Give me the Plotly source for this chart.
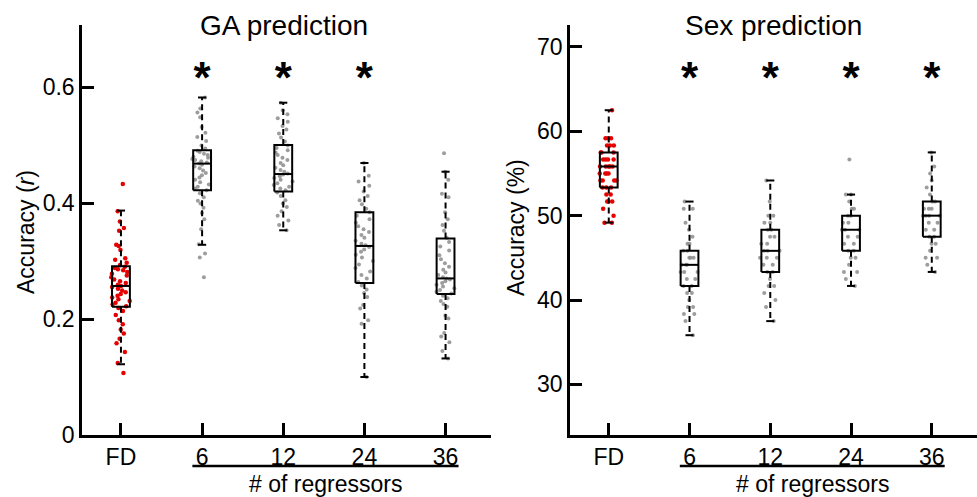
import plotly.graph_objects as go

categories = ["FD", "6", "12", "24", "36"]
positions = [1, 2, 3, 4, 5]

# ---------------- GA prediction (accuracy r) ----------------
ga_fd = [0.433, 0.386, 0.368, 0.357, 0.352, 0.328, 0.326, 0.319, 0.305, 0.302,
         0.297, 0.293, 0.290, 0.288, 0.286, 0.284, 0.281, 0.278, 0.275, 0.272,
         0.268, 0.265, 0.262, 0.259, 0.257, 0.255, 0.252, 0.249, 0.246, 0.243,
         0.240, 0.237, 0.234, 0.231, 0.228, 0.225, 0.222, 0.219, 0.214, 0.207,
         0.198, 0.191, 0.182, 0.175, 0.166, 0.158, 0.143, 0.124, 0.107]
ga_6 = [0.582, 0.563, 0.556, 0.548, 0.531, 0.521, 0.514, 0.507, 0.499, 0.494,
        0.490, 0.488, 0.485, 0.483, 0.480, 0.478, 0.476, 0.474, 0.472, 0.470,
        0.468, 0.466, 0.463, 0.460, 0.456, 0.452, 0.448, 0.444, 0.440, 0.436,
        0.432, 0.428, 0.425, 0.422, 0.417, 0.410, 0.404, 0.399, 0.392, 0.383,
        0.372, 0.355, 0.329, 0.313, 0.306, 0.272]
ga_12 = [0.573, 0.560, 0.553, 0.546, 0.540, 0.533, 0.527, 0.520, 0.513, 0.506,
         0.499, 0.495, 0.491, 0.487, 0.483, 0.478, 0.474, 0.469, 0.465, 0.461,
         0.457, 0.454, 0.451, 0.449, 0.446, 0.443, 0.440, 0.437, 0.434, 0.431,
         0.428, 0.425, 0.422, 0.418, 0.412, 0.405, 0.399, 0.393, 0.386, 0.378,
         0.370, 0.362, 0.353]
ga_24 = [0.469, 0.447, 0.437, 0.430, 0.420, 0.412, 0.405, 0.398, 0.390, 0.384,
         0.378, 0.372, 0.366, 0.360, 0.355, 0.350, 0.345, 0.340, 0.335, 0.330,
         0.327, 0.324, 0.320, 0.316, 0.311, 0.306, 0.300, 0.294, 0.288, 0.282,
         0.276, 0.270, 0.264, 0.258, 0.251, 0.245, 0.238, 0.224, 0.218, 0.198,
         0.192, 0.100]
ga_36 = [0.486, 0.454, 0.440, 0.416, 0.410, 0.384, 0.372, 0.362, 0.352, 0.340,
         0.333, 0.325, 0.318, 0.310, 0.303, 0.296, 0.290, 0.285, 0.280, 0.276,
         0.272, 0.270, 0.268, 0.265, 0.262, 0.259, 0.256, 0.253, 0.250, 0.247,
         0.244, 0.240, 0.236, 0.231, 0.226, 0.221, 0.206, 0.201, 0.176, 0.170,
         0.160, 0.145, 0.132]
ga_points = [ga_fd, ga_6, ga_12, ga_24, ga_36]

ga_q1 = [0.221, 0.422, 0.420, 0.262, 0.243]
ga_median = [0.257, 0.468, 0.450, 0.326, 0.270]
ga_q3 = [0.291, 0.491, 0.500, 0.384, 0.339]
ga_lower = [0.122, 0.328, 0.353, 0.100, 0.132]
ga_upper = [0.387, 0.582, 0.573, 0.469, 0.454]
ga_star_categories = ["6", "12", "24"]
ga_star_level = 0.608

# ---------------- Sex prediction (accuracy %) ----------------
sex_fd = [62.50, 59.17, 59.17, 59.17, 58.33, 58.33, 58.33, 57.50, 57.50, 57.50,
          56.67, 56.67, 56.67, 56.67, 55.83, 55.83, 55.83, 55.83, 55.83, 55.00,
          55.00, 55.00, 55.00, 54.17, 54.17, 54.17, 54.17, 53.33, 53.33, 53.33,
          52.50, 52.50, 51.67, 51.67, 51.67, 50.83, 50.00, 49.17, 49.17]
sex_6 = [51.67, 50.83, 50.83, 49.17, 48.33, 47.50, 46.67, 46.67, 45.83, 45.83,
         45.00, 45.00, 45.00, 44.17, 44.17, 44.17, 43.33, 43.33, 43.33, 42.50,
         42.50, 41.67, 41.67, 40.83, 40.83, 40.00, 39.17, 39.17, 38.33, 38.33,
         37.50, 35.83]
sex_12 = [54.17, 51.67, 50.00, 50.00, 49.17, 49.17, 48.33, 48.33, 47.50, 47.50,
          46.67, 46.67, 45.83, 45.83, 45.83, 45.00, 45.00, 45.00, 44.17, 44.17,
          43.33, 43.33, 42.50, 41.67, 41.67, 40.83, 40.00, 39.17, 37.50]
sex_24 = [56.67, 52.50, 52.50, 51.67, 50.83, 50.83, 50.00, 50.00, 49.17, 49.17,
          48.33, 48.33, 48.33, 47.50, 47.50, 46.67, 46.67, 45.83, 45.83, 45.00,
          45.00, 44.17, 43.33, 43.33, 42.50, 41.67]
sex_36 = [57.50, 55.83, 55.00, 54.17, 53.33, 52.50, 51.67, 51.67, 50.83, 50.83,
          50.83, 50.00, 50.00, 50.00, 50.00, 49.17, 49.17, 48.33, 48.33, 47.50,
          47.50, 46.67, 46.67, 45.83, 45.00, 45.00, 44.17, 43.33]
sex_points = [sex_fd, sex_6, sex_12, sex_24, sex_36]

sex_q1 = [53.33, 41.67, 43.33, 45.83, 47.50]
sex_median = [55.83, 44.17, 45.83, 48.33, 50.00]
sex_q3 = [57.50, 45.83, 48.33, 50.00, 51.67]
sex_lower = [49.17, 35.83, 37.50, 41.67, 43.33]
sex_upper = [62.50, 51.67, 54.17, 52.50, 57.50]
sex_star_categories = ["6", "12", "24", "36"]
sex_star_level = 65.9

# ---------------- styling ----------------
FONT = "Liberation Sans, Arial, sans-serif"
RED = "#e60000"
GRAY = "rgba(140,140,140,0.85)"
BOX_HALF = 0.11
CAP_HALF = 0.05
pos_of = dict(zip(categories, positions))

fig = go.Figure()


def add_panel(points, q1, med, q3, lo, hi, star_cats, star_level, xa, ya):
    xref = "x" if xa == "xaxis" else "x2"
    yref = "y" if ya == "yaxis" else "y2"
    for cat, pos, vals in zip(categories, positions, points):
        fig.add_trace(go.Box(
            x=[pos] * len(vals), y=vals, xaxis=xref, yaxis=yref,
            boxpoints="all", jitter=1, pointpos=0, width=0.26,
            fillcolor="rgba(0,0,0,0)", line=dict(width=0, color="rgba(0,0,0,0)"),
            marker=dict(color=RED if cat == "FD" else GRAY,
                        size=4.5 if cat == "FD" else 4),
            showlegend=False, hoverinfo="y"))
    bx, by, wx, wy = [], [], [], []
    for pos, a, m, b, l, h in zip(positions, q1, med, q3, lo, hi):
        bx += [pos - BOX_HALF, pos + BOX_HALF, pos + BOX_HALF, pos - BOX_HALF, pos - BOX_HALF, None,
               pos - BOX_HALF, pos + BOX_HALF, None,
               pos - CAP_HALF, pos + CAP_HALF, None,
               pos - CAP_HALF, pos + CAP_HALF, None]
        by += [a, a, b, b, a, None, m, m, None, l, l, None, h, h, None]
        wx += [pos, pos, None, pos, pos, None]
        wy += [b, h, None, a, l, None]
    fig.add_trace(go.Scatter(x=wx, y=wy, xaxis=xref, yaxis=yref, mode="lines",
                             line=dict(color="black", width=2, dash="6px,4px"),
                             showlegend=False, hoverinfo="skip"))
    fig.add_trace(go.Scatter(x=bx, y=by, xaxis=xref, yaxis=yref, mode="lines",
                             line=dict(color="black", width=2),
                             showlegend=False, hoverinfo="skip"))
    fig.add_trace(go.Scatter(x=[pos_of[c] for c in star_cats], y=[star_level] * len(star_cats),
                             xaxis=xref, yaxis=yref, mode="text", text=["*"] * len(star_cats),
                             textposition="middle center",
                             textfont=dict(family=FONT, size=44, color="black", weight="bold"),
                             showlegend=False, hoverinfo="skip"))


add_panel(ga_points, ga_q1, ga_median, ga_q3, ga_lower, ga_upper,
          ga_star_categories, ga_star_level, "xaxis", "yaxis")
add_panel(sex_points, sex_q1, sex_median, sex_q3, sex_lower, sex_upper,
          sex_star_categories, sex_star_level, "xaxis2", "yaxis2")

axis_common = dict(showline=True, linewidth=2.5, linecolor="black", ticks="inside",
                   ticklen=12, tickwidth=2.5, tickcolor="black", showgrid=False,
                   zeroline=False, automargin=False,
                   tickfont=dict(family=FONT, size=23, color="black"))

W, H = 977, 497
ydom = [1 - 435 / H, 1 - 25 / H]
fig.update_layout(
    width=W, height=H, margin=dict(l=0, r=0, t=0, b=0), template="none",
    plot_bgcolor="white", paper_bgcolor="white", boxmode="overlay",
    xaxis=dict(domain=[82 / W, 491 / W], range=[0.52, 5.56], tickvals=positions,
               ticktext=categories, anchor="y", **axis_common),
    yaxis=dict(domain=ydom, range=[0, 0.707], tickvals=[0, 0.2, 0.4, 0.6],
               ticktext=["0", "0.2", "0.4", "0.6"], anchor="x", **axis_common),
    xaxis2=dict(domain=[570 / W, 1.0], range=[0.52, 5.56], tickvals=positions,
                ticktext=categories, anchor="y2", **axis_common),
    yaxis2=dict(domain=ydom, range=[24, 72.6], tickvals=[30, 40, 50, 60, 70],
                ticktext=["30", "40", "50", "60", "70"], anchor="x2", **axis_common),
)

group_start, group_end = 1.88, 5.16
for xr in ["x", "x2"]:
    fig.add_shape(type="line", xref=xr, yref="paper", x0=group_start, x1=group_end,
                  y0=1 - 466 / H, y1=1 - 466 / H, line=dict(color="black", width=2.5))
    fig.add_annotation(xref=xr, yref="paper", x=(group_start + group_end) / 2, y=1 - 484 / H,
                       xanchor="center", yanchor="middle",
                       text="# of regressors", showarrow=False,
                       font=dict(family=FONT, size=23, color="black"))

title_kw = dict(xref="paper", yref="paper", showarrow=False, xanchor="center", yanchor="middle")
fig.add_annotation(x=284 / W, y=1 - 25 / H, text="GA prediction",
                   font=dict(family=FONT, size=28, color="black"), **title_kw)
fig.add_annotation(x=773 / W, y=1 - 25 / H, text="Sex prediction",
                   font=dict(family=FONT, size=28, color="black"), **title_kw)
fig.add_annotation(x=26 / W, y=1 - 232 / H, text="Accuracy (<i>r</i>)", textangle=-90,
                   font=dict(family=FONT, size=23, color="black"), **title_kw)
fig.add_annotation(x=516 / W, y=1 - 228 / H, text="Accuracy (%)", textangle=-90,
                   font=dict(family=FONT, size=23, color="black"), **title_kw)

fig.write_html("out.html", config={"displayModeBar": False},
               post_script="document.body.style.margin='0px';document.body.style.overflow='hidden';")
